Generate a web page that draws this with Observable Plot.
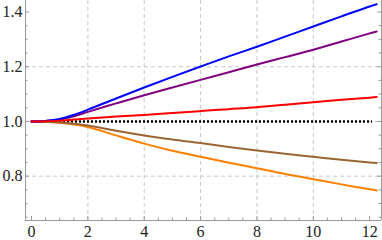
<!DOCTYPE html>
<html>
<head>
<meta charset="utf-8">
<script src="https://cdn.jsdelivr.net/npm/d3@7"></script>
<script src="https://cdn.jsdelivr.net/npm/@observablehq/plot@0.6"></script>
<style>
  html, body { margin: 0; padding: 0; background: #fff; }
  svg { display: block; }
</style>
</head>
<body>
<div id="chart"></div>
<script>
// x positions where the curves were read
const xs = [0, 0.5, 1, 1.5, 2, 3, 4, 5, 6, 7, 8, 9, 10, 11, 12, 12.25];

// series values
const seriesOrange = [1.000, 0.999, 0.995, 0.989, 0.980, 0.949, 0.919, 0.893, 0.871, 0.849, 0.829, 0.808, 0.789, 0.770, 0.752, 0.748];
const seriesBrown  = [1.000, 0.999, 0.996, 0.992, 0.985, 0.966, 0.949, 0.934, 0.921, 0.907, 0.894, 0.882, 0.871, 0.860, 0.850, 0.848];
const seriesPurple = [1.000, 1.002, 1.007, 1.019, 1.035, 1.066, 1.096, 1.124, 1.152, 1.180, 1.208, 1.235, 1.262, 1.292, 1.322, 1.329];
const seriesBlue   = [1.000, 1.002, 1.009, 1.024, 1.043, 1.084, 1.124, 1.163, 1.201, 1.238, 1.273, 1.310, 1.347, 1.384, 1.420, 1.428];
const seriesRed    = [1.000, 1.001, 1.003, 1.007, 1.011, 1.018, 1.024, 1.031, 1.038, 1.045, 1.052, 1.061, 1.070, 1.079, 1.087, 1.089];

const seriesNames  = ["s1", "s2", "s3", "s4", "s5"];
const seriesColors = ["#ff8000", "#996633", "#800080", "#0000ff", "#ff0000"];
const seriesValues = [seriesOrange, seriesBrown, seriesPurple, seriesBlue, seriesRed];

// reference (dotted) line
const refValue = [1.0];
const refFrom = 0, refTo = 12.1;

// ticks
const xMajor = [0, 2, 4, 6, 8, 10, 12];
const xMinor = [0.5, 1, 1.5, 2.5, 3, 3.5, 4.5, 5, 5.5, 6.5, 7, 7.5, 8.5, 9, 9.5, 10.5, 11, 11.5];
const yMajor = [0.8, 1.0, 1.2, 1.4];
const yMinor = [0.65, 0.7, 0.75, 0.85, 0.9, 0.95, 1.05, 1.1, 1.15, 1.25, 1.3, 1.35];
const xGrid = [2, 4, 6, 8, 10];
const yGrid = [0.8, 1.0, 1.2];

const xDomain = [-0.213, 12.42];
const yDomain = [0.638, 1.442];

const data = seriesNames.flatMap((s, i) => xs.map((x, j) => ({series: s, x, y: seriesValues[i][j]})));

const W = 382, H = 240, mL = 25, mR = 1, mT = 0, mB = 20;
const innerW = W - mL - mR, innerH = H - mT - mB;
const axisColor = "#999";

const chart = Plot.plot({
  width: W, height: H,
  marginLeft: mL, marginRight: mR, marginTop: mT, marginBottom: mB,
  style: {fontFamily: "'Liberation Serif', 'DejaVu Serif', serif", fontSize: "16px", color: "#222", background: "#fff"},
  x: {domain: xDomain, label: null},
  y: {domain: yDomain, label: null},
  color: {type: "ordinal", domain: seriesNames, range: seriesColors},
  marks: [
    Plot.gridX(xGrid, {stroke: "#c8c8c8", strokeOpacity: 1, strokeDasharray: "4,3"}),
    Plot.gridY(yGrid, {stroke: "#c8c8c8", strokeOpacity: 1, strokeDasharray: "4,3"}),
    // frame
    Plot.ruleX([xDomain[0]], {stroke: axisColor}),
    Plot.ruleX([xDomain[1]], {stroke: axisColor}),
    Plot.ruleY([yDomain[0]], {stroke: axisColor}),
    // ticks (inward)
    Plot.tickX(xMajor, {x: d => d, insetTop: innerH - 4, stroke: axisColor}),
    Plot.tickX(xMinor, {x: d => d, insetTop: innerH - 2.5, stroke: axisColor}),
    Plot.tickY(yMajor, {y: d => d, insetRight: innerW - 4, stroke: axisColor}),
    Plot.tickY(yMinor, {y: d => d, insetRight: innerW - 2.5, stroke: axisColor}),
    Plot.tickY(yMajor, {y: d => d, insetLeft: innerW - 4, stroke: axisColor}),
    Plot.tickY(yMinor, {y: d => d, insetLeft: innerW - 2.5, stroke: axisColor}),
    // labels
    Plot.axisX(xMajor, {tickSize: 0, tickPadding: 5, tickFormat: d => String(d), fill: "#222", label: null}),
    Plot.axisY(yMajor, {tickSize: 0, tickPadding: 3, tickFormat: d => d.toFixed(1), fill: "#222", label: null}),
    // reference line
    Plot.ruleY(refValue, {x1: refFrom, x2: refTo, stroke: "black", strokeWidth: 2.4, strokeDasharray: "2,2"}),
    // curves
    Plot.line(data, {x: "x", y: "y", z: "series", stroke: "series", strokeWidth: 2, curve: "catmull-rom"})
  ]
});
document.getElementById("chart").appendChild(chart);
</script>
</body>
</html>
